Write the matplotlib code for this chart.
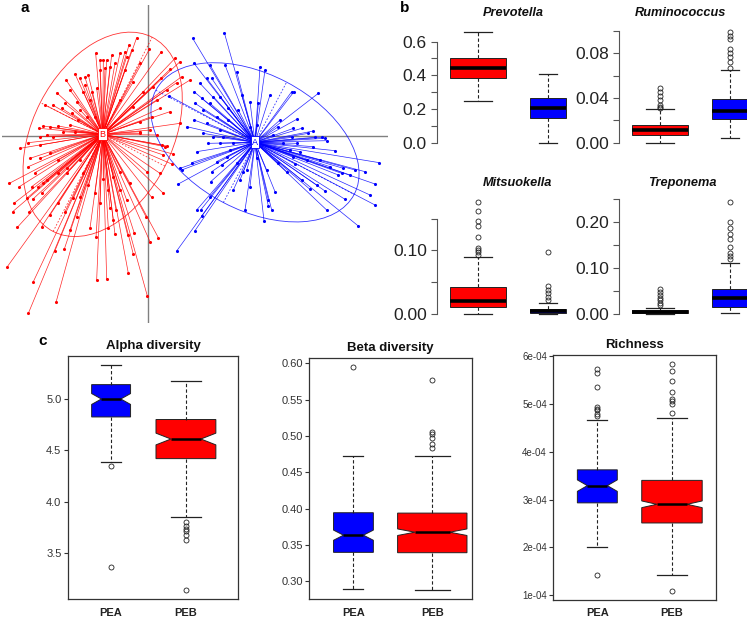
import math
import matplotlib
matplotlib.use('Agg')
import matplotlib.pyplot as plt
from matplotlib.patches import Ellipse
from matplotlib.collections import LineCollection

plt.rcParams['font.family'] = ['Liberation Sans', 'DejaVu Sans']

W, H = 747, 621
RED = '#FF0000'
BLUE = '#0000FF'

# ---------------- panel a: ordination scores (axis 1, axis 2) ----------------
red_x = [-0.034, -0.057, 0.004, 0.039, -0.084, -0.109, -0.024, 0.066, 0.039, 0.126,
         0.086, 0.056, 0.026, 0.036, 0.066, 0.011, -0.024, 0.041, 0.056, -0.157,
         -0.124, -0.219, -0.246, -0.204, -0.179, -0.144, -0.114, -0.274, -0.234, -0.194,
         -0.154, -0.309, -0.286, -0.249, -0.214, -0.174, -0.326, -0.314, -0.294, -0.269,
         -0.234, -0.209, -0.184, -0.324, -0.304, -0.284, -0.359, -0.354, -0.324, -0.359,
         -0.339, -0.416, -0.386, -0.349, -0.314, -0.402, -0.406, -0.364, -0.346, -0.319,
         -0.392, -0.356, -0.319, -0.294, -0.269, -0.224, -0.249, -0.234, -0.204, -0.174,
         -0.156, -0.119, -0.099, -0.279, -0.251, -0.422, -0.344, -0.276, -0.359, -0.154,
         -0.124, -0.059, -0.159, -0.134, -0.114, -0.084, -0.194, -0.269, -0.244, -0.204,
         -0.002, -0.044, -0.061, 0.031, 0.006, -0.006, -0.041, -0.096, 0.046, 0.011,
         -0.064, -0.119, -0.054, 0.036, -0.004, 0.071, 0.074, 0.046, 0.051, -0.104,
         -0.084, 0.101, 0.081, 0.096, -0.049, -0.069, -0.144, -0.189, -0.024, 0.026,
         -0.134, -0.099, -0.064, -0.189, -0.169, -0.259, -0.229, -0.204, -0.159, -0.324,
         -0.254, -0.219, -0.384, -0.294, -0.269, -0.244, -0.304, -0.329, -0.179, -0.144,
         -0.214, -0.104, -0.129, -0.069, -0.044, -0.014, 0.016, -0.084, -0.044, 0.006,
         -0.024, 0.096]
red_y = [0.295, 0.273, 0.260, 0.251, 0.248, 0.243, 0.218, 0.200, 0.173, 0.168,
         0.160, 0.138, 0.108, 0.083, 0.073, 0.058, 0.043, -0.027, -0.030, 0.248,
         0.228, 0.186, 0.168, 0.173, 0.183, 0.198, 0.208, 0.130, 0.138, 0.133,
         0.143, 0.093, 0.093, 0.098, 0.103, 0.108, 0.023, 0.030, 0.026, 0.030,
         0.033, 0.048, 0.058, -0.027, 0.003, -0.002, -0.020, -0.067, -0.067, -0.092,
         -0.110, -0.142, -0.152, -0.152, -0.142, -0.202, -0.227, -0.187, -0.190, -0.172,
         -0.274, -0.227, -0.272, -0.237, -0.202, -0.187, -0.227, -0.282, -0.182, -0.277,
         -0.304, -0.277, -0.295, -0.344, -0.339, -0.392, -0.437, -0.499, -0.532, -0.432,
         -0.429, -0.412, -0.172, -0.130, -0.217, -0.162, -0.112, -0.112, -0.112, -0.072,
         -0.480, -0.355, -0.297, -0.305, -0.317, -0.242, -0.292, -0.222, -0.172, -0.184,
         -0.192, -0.162, -0.142, -0.112, -0.107, -0.084, -0.054, -0.057, -0.032, -0.122,
         -0.107, 0.178, 0.233, 0.223, 0.258, 0.253, 0.228, 0.176, 0.013, 0.003,
         0.228, 0.218, 0.238, 0.153, 0.133, 0.083, 0.068, 0.078, 0.058, -0.002,
         0.013, 0.013, -0.037, -0.052, -0.072, -0.097, -0.132, -0.152, -0.147, -0.202,
         -0.242, -0.252, 0.203, 0.198, 0.163, 0.133, 0.148, 0.108, 0.088, 0.018,
         0.008, 0.038]

blue_x = [0.134, 0.229, 0.138, 0.186, 0.231, 0.266, 0.336, 0.351, 0.176, 0.191,
          0.156, 0.216, 0.281, 0.306, 0.331, 0.366, 0.431, 0.438, 0.511, 0.138,
          0.161, 0.186, 0.141, 0.166, 0.206, 0.241, 0.446, 0.391, 0.116, 0.138,
          0.166, 0.196, 0.326, 0.436, 0.461, 0.496, 0.501, 0.521, 0.431, 0.376,
          0.536, 0.496, 0.561, 0.694, 0.651, 0.621, 0.586, 0.571, 0.606, 0.681,
          0.666, 0.591, 0.631, 0.681, 0.536, 0.531, 0.506, 0.486, 0.461, 0.441,
          0.476, 0.416, 0.381, 0.371, 0.361, 0.348, 0.361, 0.291, 0.296, 0.266,
          0.236, 0.206, 0.191, 0.188, 0.221, 0.131, 0.096, 0.101, 0.091, 0.146,
          0.181, 0.216, 0.246, 0.146, 0.158, 0.161, 0.141, 0.086, 0.186, 0.286,
          0.326, 0.356, 0.391, 0.426, 0.456, 0.446, 0.531, 0.064,
          0.196, 0.241, 0.271, 0.306, 0.176, 0.216, 0.396, 0.481, 0.226, 0.256,
          0.406, 0.436, 0.516, 0.546, 0.581, 0.276, 0.306, 0.256]
blue_y = [0.293, 0.310, 0.218, 0.213, 0.213, 0.193, 0.208, 0.198, 0.173, 0.173,
          0.158, 0.118, 0.123, 0.103, 0.098, 0.123, 0.133, 0.133, 0.128, 0.133,
          0.113, 0.098, 0.098, 0.078, 0.058, 0.048, 0.050, 0.028, 0.028, 0.048,
          0.008, -0.002, 0.033, 0.023, 0.023, 0.015, -0.004, -0.004, -0.004, 0.003,
          -0.014, -0.032, -0.044, -0.080, -0.107, -0.102, -0.097, -0.117, -0.117, -0.144,
          -0.177, -0.190, -0.270, -0.207, -0.222, -0.165, -0.147, -0.160, -0.132, -0.084,
          -0.072, -0.107, -0.167, -0.222, -0.192, -0.254, -0.210, -0.222, -0.102, -0.082,
          -0.062, -0.077, -0.107, -0.137, -0.087, -0.080, -0.097, -0.102, -0.144, -0.047,
          -0.022, -0.022, -0.042, -0.222, -0.222, -0.240, -0.284, -0.345, -0.182, -0.107,
          -0.067, -0.102, -0.082, -0.042, -0.047, -0.022, -0.007, 0.120,
          0.118, 0.083, 0.078, 0.028, 0.038, 0.018, 0.048, 0.008, -0.002, -0.022,
          -0.022, -0.062, -0.072, -0.092, -0.112, -0.132, -0.152, -0.162]

center_B = (-0.136, 0.005)
center_A = (0.321, -0.019)
# ellipse semi-axes and tilt (degrees)
ellipse_B = (0.327, 0.210, 63.0)
ellipse_A = (0.336, 0.204, -27.7)

# ---------------- panel b: relative abundance, five-number summaries ----------------
# [whisker low, Q1, median, Q3, whisker high]
prev_red = [0.25, 0.382, 0.442, 0.505, 0.655]
prev_red_out = []
prev_blue = [0.0, 0.145, 0.204, 0.267, 0.406]
prev_blue_out = []

rumi_red = [0.0, 0.0069, 0.0113, 0.0158, 0.0299]
rumi_red_out = [0.031, 0.0316, 0.0337, 0.0382, 0.0418, 0.0451, 0.0487]
rumi_blue = [0.0039, 0.0209, 0.0284, 0.0391, 0.0651]
rumi_blue_out = [0.067, 0.0725, 0.077, 0.080, 0.0836, 0.0925, 0.0958, 0.0988]

mits_red = [0.0, 0.010, 0.0206, 0.0418, 0.0894]
mits_red_out = [0.093, 0.097, 0.101, 0.104, 0.121, 0.139, 0.146, 0.163, 0.176]
mits_blue = [0.0, 0.001, 0.0048, 0.0074, 0.0175]
mits_blue_out = [0.0217, 0.027, 0.032, 0.0376, 0.043, 0.097]

trep_red = [0.0, 0.002, 0.0044, 0.0073, 0.013]
trep_red_out = [0.019, 0.024, 0.029, 0.034, 0.040, 0.048, 0.053]
trep_blue = [0.0015, 0.0153, 0.0335, 0.053, 0.111]
trep_blue_out = [0.1185, 0.126, 0.132, 0.145, 0.163, 0.174, 0.186, 0.1985, 0.242]

# ---------------- panel c: diversity, PEA (blue) vs PEB (red) ----------------
groups = ['PEA', 'PEB']
alpha_pea = [4.383, 4.825, 5.0, 5.14, 5.334]
alpha_pea_out = [4.344, 3.36]
alpha_peb = [3.851, 4.419, 4.61, 4.80, 5.172]
alpha_peb_out = [3.80, 3.76, 3.734, 3.71, 3.67, 3.63, 3.136]
alpha_notch = [0.053, 0.057]

beta_pea = [0.2895, 0.340, 0.3636, 0.3945, 0.4727]
beta_pea_out = [0.5955]
beta_peb = [0.2877, 0.3395, 0.3677, 0.394, 0.4727]
beta_peb_out = [0.577, 0.505, 0.503, 0.498, 0.489, 0.483]
beta_notch = [0.007, 0.0045]

rich_pea = [2.01e-4, 2.93e-4, 3.29e-4, 3.62e-4, 4.66e-4]
rich_pea_out = [5.72e-4, 5.64e-4, 5.35e-4, 4.94e-4, 4.90e-4, 4.87e-4, 4.79e-4, 4.74e-4, 1.42e-4]
rich_peb = [1.42e-4, 2.51e-4, 2.90e-4, 3.40e-4, 4.71e-4]
rich_peb_out = [5.83e-4, 5.69e-4, 5.47e-4, 5.25e-4, 5.09e-4, 5.06e-4, 5.00e-4, 4.80e-4, 1.09e-4]
rich_notch = [0.12e-4, 0.07e-4]


fig = plt.figure(figsize=(W / 100, H / 100), dpi=100)


def px_axes(x0, y0, x1, y1):
    return fig.add_axes([x0 / W, 1 - y1 / H, (x1 - x0) / W, (y1 - y0) / H])


def make_stats(five, out, ci=None):
    d = dict(whislo=five[0], q1=five[1], med=five[2], q3=five[3], whishi=five[4], fliers=out)
    if ci is not None:
        d['cilo'] = five[2] - ci
        d['cihi'] = five[2] + ci
    return d


def r_ylim(ax, fives, outs):
    # R-style range: data extent plus 4% on each side
    vals = [v for f in fives for v in f] + [v for o in outs for v in o]
    lo, hi = min(vals), max(vals)
    pad = 0.04 * (hi - lo)
    ax.set_ylim(lo - pad, hi + pad)


def draw_boxes(ax, stats, colors, widths, notch, med_lw):
    bp = ax.bxp(stats, positions=[1, 2], widths=widths, patch_artist=True,
                shownotches=notch,
                boxprops=dict(edgecolor='#222222', linewidth=0.7),
                medianprops=dict(color='black', linewidth=med_lw),
                whiskerprops=dict(color='#222222', linewidth=0.8, linestyle=(0, (3, 2))),
                capprops=dict(color='#222222', linewidth=0.9),
                flierprops=dict(marker='o', markerfacecolor='none', markeredgecolor='#222222',
                                markersize=3.6, markeredgewidth=0.6))
    for patch, c in zip(bp['boxes'], colors):
        patch.set_facecolor(c)


# ---------- panel a ----------
axa = px_axes(2, 5, 388, 323)
axa.set_xlim(-0.438, 0.720)
axa.set_ylim(-0.561, 0.393)
axa.axis('off')
axa.axhline(0, color='#808080', lw=1.0, zorder=1)
axa.axvline(0, color='#808080', lw=1.0, zorder=1)

for xs, ys, cen, ell, col in [(red_x, red_y, center_B, ellipse_B, RED),
                              (blue_x, blue_y, center_A, ellipse_A, BLUE)]:
    segs = [[cen, (x, y)] for x, y in zip(xs, ys)]
    axa.add_collection(LineCollection(segs, colors=col, linewidths=0.5, alpha=0.85, zorder=2))
    axa.scatter(xs, ys, s=5, color=col, zorder=3, linewidths=0)
    a, b, ang = ell
    axa.add_patch(Ellipse(cen, 2 * a, 2 * b, angle=ang, fill=False, ec=col, lw=0.6,
                          alpha=0.8, zorder=2))
    t = math.radians(ang)
    for r, tt in [(a, t), (b, t + math.pi / 2)]:
        dx, dy = r * math.cos(tt), r * math.sin(tt)
        axa.plot([cen[0] - dx, cen[0] + dx], [cen[1] - dy, cen[1] + dy],
                 color=col, lw=0.6, ls=(0, (2, 2)), alpha=0.8, zorder=2)

axa.text(center_B[0], center_B[1], 'B', color=RED, fontsize=6.5, ha='center', va='center', zorder=5,
         bbox=dict(boxstyle='square,pad=0.15', fc='white', ec=RED, lw=0.6))
axa.text(center_A[0], center_A[1], 'A', color=BLUE, fontsize=6.5, ha='center', va='center', zorder=5,
         bbox=dict(boxstyle='square,pad=0.15', fc='white', ec=BLUE, lw=0.6))

# ---------- panel b ----------
b_panels = [
    ('Prevotella', prev_red, prev_red_out, prev_blue, prev_blue_out,
     (437, 28, 589, 147), (513, 13), [0.0, 0.1, 0.2, 0.3, 0.4, 0.5, 0.6],
     ['0.0', '', '0.2', '', '0.4', '', '0.6']),
    ('Ruminococcus', rumi_red, rumi_red_out, rumi_blue, rumi_blue_out,
     (619, 28, 771, 147), (680, 13), [0.0, 0.02, 0.04, 0.06, 0.08, 0.10],
     ['0.00', '', '0.04', '', '0.08', '']),
    ('Mitsuokella', mits_red, mits_red_out, mits_blue, mits_blue_out,
     (437, 198, 589, 318), (517, 183), [0.0, 0.05, 0.10, 0.15],
     ['0.00', '', '0.10', '']),
    ('Treponema', trep_red, trep_red_out, trep_blue, trep_blue_out,
     (619, 198, 771, 318), (682, 183), [0.0, 0.05, 0.10, 0.15, 0.20, 0.25],
     ['0.00', '', '0.10', '', '0.20', '']),
]
for name, rf, ro, bf, bo, box, tpos, ticks, labels in b_panels:
    ax = px_axes(*box)
    draw_boxes(ax, [make_stats(rf, ro), make_stats(bf, bo)], [RED, BLUE], [0.8, 0.51], False, 2.6)
    ax.set_xlim(0.42, 2.58)
    r_ylim(ax, [rf, bf], [ro, bo])
    for s in ['top', 'right', 'bottom']:
        ax.spines[s].set_visible(False)
    ax.spines['left'].set_color('#555555')
    ax.spines['left'].set_bounds(ticks[0], ticks[-1])
    ax.set_xticks([])
    ax.set_yticks(ticks)
    ax.set_yticklabels(labels)
    ax.tick_params(axis='y', length=4.3, pad=3.0, labelsize=12.5, colors='#555555',
                   labelcolor='#222222')
    fig.text(tpos[0] / W, 1 - tpos[1] / H, name, fontsize=9.2, fontweight='bold', style='italic',
             ha='center', va='center', color='#111111')

# ---------- panel c ----------
c_panels = [
    ('Alpha diversity', alpha_pea, alpha_pea_out, alpha_peb, alpha_peb_out, alpha_notch,
     (67.7, 355.7, 238.3, 599.3), (0.42, 2.70), [0.52, 0.80],
     [3.5, 4.0, 4.5, 5.0], ['3.5', '4.0', '4.5', '5.0'], 8),
    ('Beta diversity', beta_pea, beta_pea_out, beta_peb, beta_peb_out, beta_notch,
     (309.3, 357.7, 471.7, 599.3), (0.44, 2.50), [0.505, 0.88],
     [0.30, 0.35, 0.40, 0.45, 0.50, 0.55, 0.60],
     ['0.30', '0.35', '0.40', '0.45', '0.50', '0.55', '0.60'], 8),
    ('Richness', rich_pea, rich_pea_out, rich_peb, rich_peb_out, rich_notch,
     (553.3, 355, 716, 600), (0.41, 2.59), [0.535, 0.81],
     [1e-4, 2e-4, 3e-4, 4e-4, 5e-4, 6e-4],
     ['1e-04', '2e-04', '3e-04', '4e-04', '5e-04', '6e-04'], 7),
]
for title, af, ao, bf, bo, ci, box, xl, wd, ticks, labels, tsize in c_panels:
    ax = px_axes(*box)
    draw_boxes(ax, [make_stats(af, ao, ci[0]), make_stats(bf, bo, ci[1])], [BLUE, RED], wd, True, 1.8)
    ax.set_xlim(*xl)
    r_ylim(ax, [af, bf], [ao, bo])
    for s in ax.spines.values():
        s.set_color('#333333')
        s.set_linewidth(0.9)
    ax.set_xticks([1, 2])
    ax.set_xticklabels(groups, fontsize=8, fontweight='bold')
    ax.tick_params(axis='x', length=0, pad=6, labelcolor='#222222')
    ax.set_yticks(ticks)
    ax.set_yticklabels(labels)
    ax.tick_params(axis='y', length=3, pad=1.5, labelsize=tsize, colors='#333333',
                   labelcolor='#333333')
    ax.set_title(title, fontsize=9.5, fontweight='bold', pad=5, color='#111111')

# panel letters
for lab, (x, y) in [('a', (24.5, 7.5)), ('b', (405, 8)), ('c', (43, 341))]:
    fig.text(x / W, 1 - y / H, lab, fontsize=11, fontweight='bold', ha='center', va='center')

fig.savefig('out.png', dpi=100)
